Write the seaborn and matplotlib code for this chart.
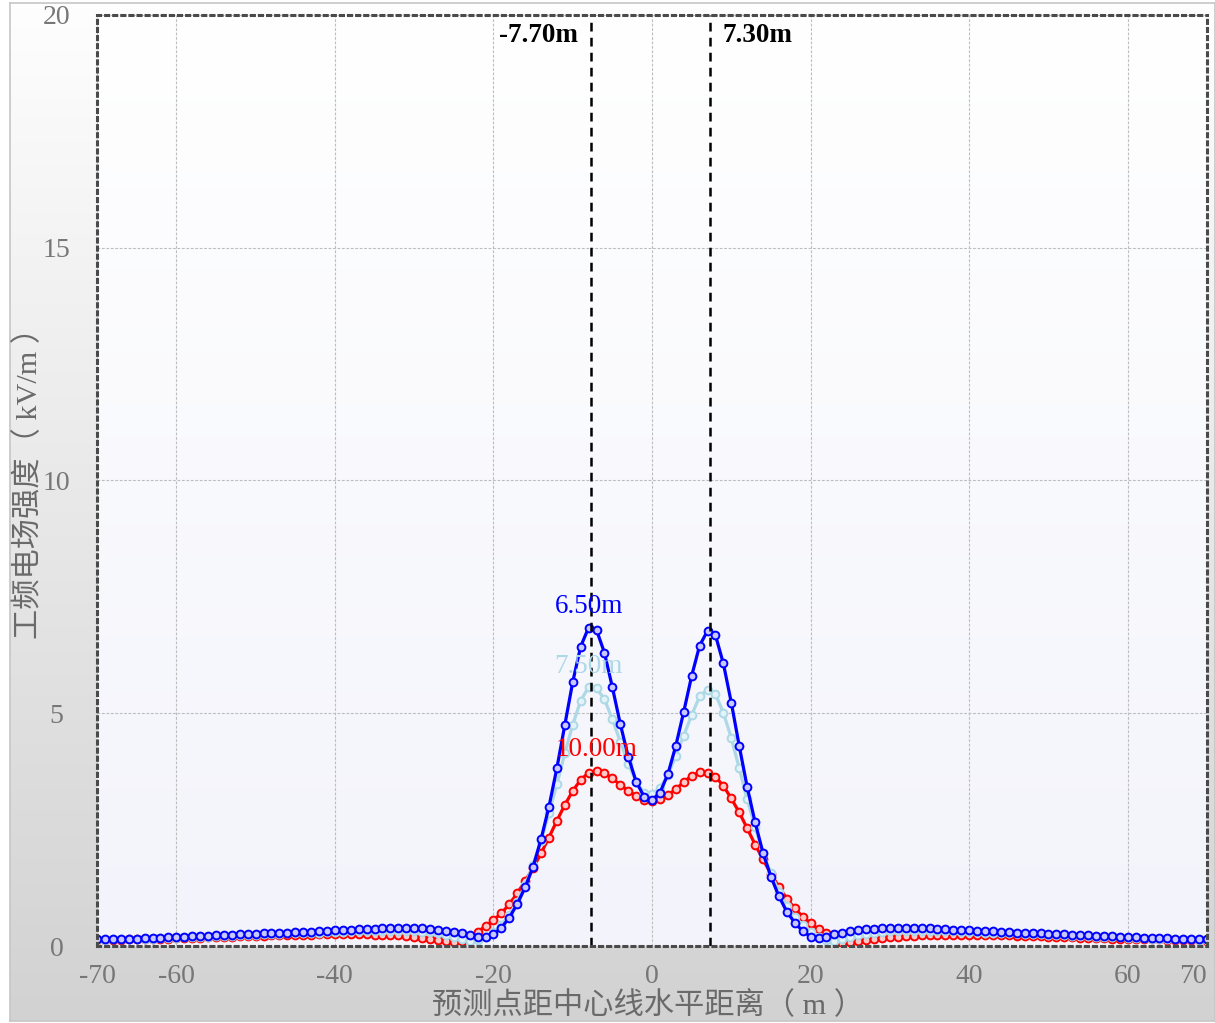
import numpy as np
import pandas as pd
import matplotlib
matplotlib.use("Agg")
import matplotlib.pyplot as plt
from matplotlib.colors import LinearSegmentedColormap
import seaborn as sns

# Horizontal distance from the line centre (m)
distance = list(range(-70, 71))

# Conductor heights above ground (m) and their colours
conductor_heights = [6.5, 7.5, 10.0]
line_colors = ["#0000ff", "#add8e6", "#ff0000"]
marker_faces = ["#c8c8ff", "#e4f3f8", "#ffc8c8"]

# Power-frequency electric field (kV/m) for each conductor height
field_650 = [
    0.14, 0.14, 0.15, 0.15, 0.16, 0.16, 0.17, 0.17, 0.18, 0.19,
    0.20, 0.20, 0.21, 0.21, 0.22, 0.23, 0.23, 0.24, 0.25, 0.25,
    0.26, 0.27, 0.28, 0.28, 0.29, 0.30, 0.31, 0.31, 0.32, 0.33,
    0.34, 0.34, 0.35, 0.36, 0.36, 0.37, 0.38, 0.38, 0.39, 0.39,
    0.39, 0.38, 0.37, 0.35, 0.32, 0.30, 0.27, 0.24, 0.19, 0.19,
    0.25, 0.39, 0.61, 0.90, 1.26, 1.70, 2.29, 2.99, 3.82, 4.74,
    5.67, 6.43, 6.84, 6.79, 6.30, 5.56, 4.77, 4.07, 3.53, 3.21,
    3.14,
    3.29, 3.69, 4.30, 5.03, 5.80, 6.45, 6.77, 6.68, 6.07, 5.23,
    4.30, 3.42, 2.66, 2.00, 1.49, 1.07, 0.74, 0.50, 0.32, 0.20,
    0.18, 0.19, 0.25, 0.29, 0.32, 0.34, 0.36, 0.37, 0.38, 0.39,
    0.39, 0.39, 0.39, 0.38, 0.38, 0.37, 0.36, 0.35, 0.35, 0.34,
    0.33, 0.33, 0.32, 0.31, 0.30, 0.29, 0.29, 0.28, 0.27, 0.26,
    0.26, 0.25, 0.24, 0.24, 0.23, 0.22, 0.22, 0.21, 0.20, 0.20,
    0.19, 0.18, 0.18, 0.17, 0.17, 0.16, 0.16, 0.15, 0.15, 0.14,
]
field_750 = [
    0.13, 0.13, 0.14, 0.14, 0.15, 0.15, 0.16, 0.16, 0.17, 0.17,
    0.18, 0.19, 0.19, 0.20, 0.20, 0.21, 0.22, 0.22, 0.23, 0.23,
    0.24, 0.25, 0.25, 0.26, 0.27, 0.27, 0.28, 0.29, 0.29, 0.30,
    0.31, 0.31, 0.32, 0.32, 0.33, 0.33, 0.33, 0.33, 0.33, 0.33,
    0.32, 0.31, 0.30, 0.27, 0.24, 0.20, 0.15, 0.11, 0.13, 0.20,
    0.31, 0.45, 0.67, 0.95, 1.31, 1.74, 2.26, 2.85, 3.47, 4.14,
    4.75, 5.27, 5.56, 5.54, 5.30, 4.87, 4.39, 3.92, 3.53, 3.29,
    3.26,
    3.39, 3.67, 4.09, 4.52, 4.96, 5.36, 5.51, 5.41, 5.01, 4.47,
    3.82, 3.15, 2.56, 1.99, 1.56, 1.17, 0.86, 0.63, 0.45, 0.31,
    0.20, 0.13, 0.11, 0.15, 0.19, 0.23, 0.26, 0.29, 0.31, 0.32,
    0.33, 0.33, 0.33, 0.33, 0.33, 0.33, 0.32, 0.32, 0.31, 0.31,
    0.30, 0.29, 0.29, 0.28, 0.27, 0.27, 0.26, 0.25, 0.25, 0.24,
    0.23, 0.23, 0.22, 0.22, 0.21, 0.20, 0.20, 0.19, 0.19, 0.18,
    0.17, 0.17, 0.16, 0.16, 0.15, 0.15, 0.14, 0.14, 0.13, 0.13,
]
field_1000 = [
    0.12, 0.12, 0.13, 0.13, 0.14, 0.14, 0.15, 0.15, 0.16, 0.16,
    0.17, 0.17, 0.18, 0.18, 0.19, 0.19, 0.20, 0.20, 0.21, 0.21,
    0.22, 0.22, 0.23, 0.23, 0.23, 0.24, 0.24, 0.24, 0.25, 0.25,
    0.25, 0.25, 0.25, 0.25, 0.25, 0.24, 0.24, 0.23, 0.23, 0.22,
    0.20, 0.18, 0.16, 0.13, 0.11, 0.09, 0.10, 0.20, 0.31, 0.42,
    0.56, 0.70, 0.90, 1.13, 1.40, 1.67, 1.99, 2.33, 2.69, 3.03,
    3.33, 3.57, 3.72, 3.77, 3.71, 3.60, 3.46, 3.34, 3.22, 3.14,
    3.11,
    3.15, 3.24, 3.37, 3.52, 3.66, 3.73, 3.72, 3.64, 3.44, 3.17,
    2.87, 2.53, 2.18, 1.86, 1.55, 1.27, 1.02, 0.81, 0.63, 0.49,
    0.36, 0.27, 0.12, 0.07, 0.09, 0.11, 0.13, 0.15, 0.17, 0.19,
    0.20, 0.21, 0.22, 0.23, 0.23, 0.24, 0.24, 0.24, 0.24, 0.24,
    0.24, 0.24, 0.23, 0.23, 0.23, 0.22, 0.22, 0.21, 0.21, 0.20,
    0.20, 0.19, 0.19, 0.18, 0.18, 0.17, 0.17, 0.16, 0.16, 0.15,
    0.15, 0.14, 0.14, 0.14, 0.13, 0.13, 0.12, 0.12, 0.12, 0.11,
]

# Horizontal positions of the maximum field
max_positions = [-7.70, 7.30]

x_ticks = [-70, -60, -40, -20, 0, 20, 40, 60, 70]
y_ticks = [0, 5, 10, 15, 20]

sns.set_theme(style="white")
plt.rcParams["font.family"] = ["Liberation Serif", "Noto Sans CJK SC"]
plt.rcParams["axes.unicode_minus"] = False

W, H = 1215, 1023
fig = plt.figure(figsize=(W / 100, H / 100), dpi=100)
fig.patch.set_facecolor("white")

# Outer panel with a soft vertical grey gradient
grad = np.linspace(0, 1, 256).reshape(-1, 1)
bg = fig.add_axes([10 / W, 2 / H, (W - 10) / W, (H - 5) / H], zorder=-10)
bg.imshow(grad, aspect="auto", origin="upper", extent=[0, 1, 0, 1],
          cmap=LinearSegmentedColormap.from_list("panel", ["#fefefe", "#d2d2d2"]))
bg.set_xlim(0, 1)
bg.set_ylim(0, 1)
bg.set_xticks([])
bg.set_yticks([])
for s in bg.spines.values():
    s.set_color("#c6c6c6")
    s.set_linewidth(1.2)

ax = fig.add_axes([97 / W, (H - 946) / H, 1110 / W, 931 / H])
ax.imshow(grad, aspect="auto", origin="upper", extent=[-70, 70, 0, 20], zorder=0,
          cmap=LinearSegmentedColormap.from_list("plot", ["#ffffff", "#f3f4fb"]))

frames = {6.5: field_650, 7.5: field_750, 10.0: field_1000}
order = [2, 1, 0]  # draw the lowest curve first so the 6.50 m curve sits on top
for z, i in enumerate(order):
    h = conductor_heights[i]
    df = pd.DataFrame({"distance": distance, "field": frames[h]})
    sns.lineplot(data=df, x="distance", y="field", ax=ax, color=line_colors[i],
                 linewidth=2.3, marker="o", markersize=5.6,
                 markerfacecolor=marker_faces[i], markeredgecolor=line_colors[i],
                 markeredgewidth=1.4, errorbar=None, legend=False, zorder=4 + z)
    k = int(np.argmax(frames[h]))
    ax.annotate(f"{h:.2f}m", xy=(distance[k], frames[h][k]), xytext=(0, 15),
                textcoords="offset points", ha="center", va="center",
                color=line_colors[i], fontsize=19.5, zorder=10)

for j, p in enumerate(max_positions):
    ax.axvline(p, color="black", linestyle=(0, (3.5, 2.5)), linewidth=1.8, zorder=8)
    ax.annotate(f"{p:.2f}m", xy=(p, 19.55), xycoords="data",
                xytext=(-9 if j == 0 else 9, 0), textcoords="offset points",
                ha="right" if j == 0 else "left", va="center",
                fontsize=19.5, fontweight="bold", color="black", zorder=10)

ax.set_xlim(-70, 70)
ax.set_ylim(0, 20)
ax.set_xticks(x_ticks)
ax.set_yticks(y_ticks)
ax.grid(True, color="#bdbdbd", linestyle=(0, (2.5, 1.5)), linewidth=0.8)
ax.set_axisbelow(True)
ax.tick_params(axis="both", length=0, labelsize=20, labelcolor="#777777")
ax.tick_params(axis="x", pad=13)
ax.tick_params(axis="y", pad=29)
for lab in ax.get_yticklabels():
    lab.set_ha("center")
ax.get_xticklabels()[-1].set_ha("right")

for s in ax.spines.values():
    s.set_visible(True)
    s.set_color("#4a4a4a")
    s.set_linestyle(":")
    s.set_linewidth(2.2)
    s.set_zorder(9)

ax.set_xlabel("预测点距中心线水平距离（ m ）", fontsize=21.8, color="#6a6a6a")
ax.set_ylabel("工频电场强度（ kV/m ）", fontsize=21.8, color="#6a6a6a")
ax.xaxis.set_label_coords(0.496, -0.064)
ax.xaxis.label.set_va("center")
ax.yaxis.set_label_coords(-0.062, 0.505)
ax.yaxis.label.set_va("center")

fig.savefig("out.png", dpi=100)
